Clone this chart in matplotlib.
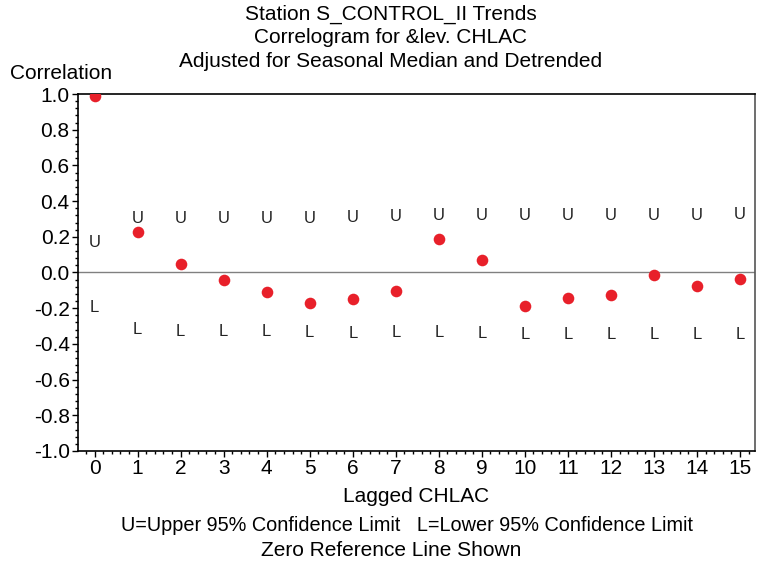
import numpy as np
import matplotlib.pyplot as plt
from matplotlib.ticker import MultipleLocator, FormatStrFormatter

plt.rcParams['font.family'] = ['Liberation Sans', 'DejaVu Sans']

# correlogram values
lags = list(range(16))
corr = [0.99, 0.229, 0.048, -0.042, -0.111, -0.173, -0.150, -0.102,
        0.188, 0.068, -0.186, -0.145, -0.128, -0.014, -0.076, -0.038]
upper = [0.169, 0.300, 0.304, 0.304, 0.304, 0.304, 0.307, 0.313,
         0.317, 0.317, 0.317, 0.318, 0.318, 0.322, 0.322, 0.326]
lower = [-0.195, -0.322, -0.332, -0.332, -0.332, -0.335, -0.341, -0.335,
         -0.335, -0.341, -0.345, -0.345, -0.348, -0.348, -0.350, -0.350]

fig = plt.figure(figsize=(7.67, 5.63), dpi=100)
ax = fig.add_axes([0.1017, 0.199, 0.8827, 0.634])

ax.axhline(0, color='#808080', lw=1, zorder=1)
ax.scatter(lags, corr, s=70, color='#e8202a', zorder=3, linewidths=0)
# narrow glyphs for the confidence limit markers
for x, u, l in zip(lags, upper, lower):
    ax.text(x, u, 'U', ha='center', va='center', fontsize=12,
            family=['Liberation Sans Narrow', 'Liberation Sans'],
            color='#222222', zorder=2)
    ax.text(x, l, 'L', ha='center', va='center', fontsize=12,
            family=['Liberation Sans Narrow', 'Liberation Sans'],
            color='#222222', zorder=2)

ax.set_xlim(-0.386, 15.35)
ax.set_ylim(-1.0, 1.0)
ax.xaxis.set_major_locator(MultipleLocator(1))
ax.xaxis.set_minor_locator(MultipleLocator(0.2))
ax.yaxis.set_major_locator(MultipleLocator(0.2))
ax.yaxis.set_minor_locator(MultipleLocator(0.04))
ax.yaxis.set_major_formatter(FormatStrFormatter('%.1f'))
ax.tick_params(axis='both', which='major', direction='out', length=4,
               width=1, labelsize=15, pad=2)
ax.tick_params(axis='both', which='minor', direction='out', length=2, width=1)

for side in ['left', 'bottom', 'top']:
    ax.spines[side].set_color('black')
    ax.spines[side].set_linewidth(1.2)
ax.spines['right'].set_color('#555555')
ax.spines['right'].set_linewidth(1.2)

ax.set_xlabel('Lagged CHLAC', fontsize=15, labelpad=6)

fig.text(0.509, 0.975, 'Station S_CONTROL_II Trends', ha='center', va='center', fontsize=15)
fig.text(0.509, 0.934, 'Correlogram for &lev. CHLAC', ha='center', va='center', fontsize=15)
fig.text(0.509, 0.891, 'Adjusted for Seasonal Median and Detrended', ha='center', va='center', fontsize=15)
fig.text(0.013, 0.870, 'Correlation', ha='left', va='center', fontsize=15)

fig.text(0.53, 0.067, 'U=Upper 95% Confidence Limit   L=Lower 95% Confidence Limit',
         ha='center', va='center', fontsize=14.3)
fig.text(0.51, 0.023, 'Zero Reference Line Shown', ha='center', va='center', fontsize=15)

fig.savefig('out.png', dpi=100)
